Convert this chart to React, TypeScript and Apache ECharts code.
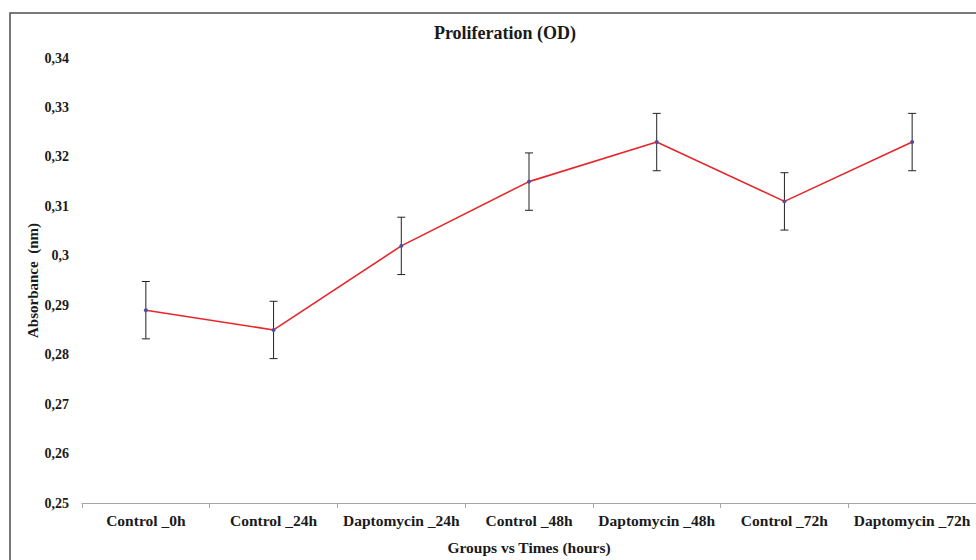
import React, { useEffect, useRef } from "react";
import * as echarts from "echarts";

const categories = [
  "Control _0h",
  "Control _24h",
  "Daptomycin _24h",
  "Control _48h",
  "Daptomycin _48h",
  "Control _72h",
  "Daptomycin _72h",
];
const meanValues = [0.289, 0.285, 0.302, 0.315, 0.323, 0.311, 0.323];
const errorValues = [0.0058, 0.0058, 0.0058, 0.0058, 0.0058, 0.0058, 0.0058];

const FONT = "'Liberation Serif', 'DejaVu Serif', serif";

export default function App() {
  const ref = useRef<HTMLDivElement>(null);
  useEffect(() => {
    if (!ref.current) return;
    const chart = echarts.init(ref.current, null, { renderer: "svg" });
    const errData = meanValues.map((v, i) => [i, v - errorValues[i], v + errorValues[i]]);
    chart.setOption({
      animation: false,
      backgroundColor: "#ffffff",
      title: {
        text: "Proliferation (OD)",
        left: 500,
        textAlign: "center",
        top: 19,
        textStyle: { fontFamily: FONT, fontWeight: "bold", fontSize: 18, color: "#1a1a1a" },
      },
      graphic: [
        {
          type: "rect",
          shape: { x: 10, y: 13, width: 1100, height: 700 },
          style: { fill: "none", stroke: "#4d4d4d", lineWidth: 1.5 },
          silent: true,
        },
      ],
      grid: { left: 82, top: 58, width: 896, height: 447, containLabel: false },
      xAxis: {
        type: "category",
        data: categories,
        boundaryGap: true,
        name: "Groups vs Times (hours)",
        nameLocation: "middle",
        nameGap: 36,
        nameTextStyle: { fontFamily: FONT, fontWeight: "bold", fontSize: 15.5, color: "#1a1a1a" },
        axisLine: { lineStyle: { color: "#a6a6a6", width: 1 } },
        axisTick: { show: true, alignWithLabel: false, length: 5, lineStyle: { color: "#a6a6a6" } },
        axisLabel: { fontFamily: FONT, fontWeight: "bold", fontSize: 15.5, color: "#1a1a1a", margin: 9, interval: 0 },
        splitLine: { show: false },
      },
      yAxis: {
        type: "value",
        min: 0.25,
        max: 0.34,
        interval: 0.01,
        name: "Absorbance  (nm)",
        nameLocation: "middle",
        nameGap: 42,
        nameMoveOverlap: false,
        nameRotate: 90,
        nameTextStyle: { fontFamily: FONT, fontWeight: "bold", fontSize: 15, color: "#1a1a1a" },
        axisLine: { show: false },
        axisTick: { show: false },
        splitLine: { show: false },
        axisLabel: {
          fontFamily: FONT,
          fontWeight: "bold",
          fontSize: 14,
          color: "#1a1a1a",
          margin: 13,
          formatter: (v: number) => String(Math.round(v * 100) / 100).replace(".", ","),
        },
      },
      series: [
        {
          type: "custom",
          data: errData,
          z: 1,
          renderItem: (params: any, api: any) => {
            const x = api.value(0);
            const lo = api.coord([x, api.value(1)]);
            const hi = api.coord([x, api.value(2)]);
            const cap = 4;
            const st = { stroke: "#222222", lineWidth: 1 };
            return {
              type: "group",
              children: [
                { type: "line", shape: { x1: hi[0], y1: hi[1], x2: lo[0], y2: lo[1] }, style: st },
                { type: "line", shape: { x1: hi[0] - cap, y1: hi[1], x2: hi[0] + cap, y2: hi[1] }, style: st },
                { type: "line", shape: { x1: lo[0] - cap, y1: lo[1], x2: lo[0] + cap, y2: lo[1] }, style: st },
              ],
            };
          },
        },
        {
          type: "line",
          data: meanValues,
          z: 3,
          symbol: "circle",
          symbolSize: 4,
          itemStyle: { color: "#4b4fa0" },
          lineStyle: { color: "#e8262a", width: 1.6 },
        },
      ],
    });
    return () => chart.dispose();
  }, []);
  return (
    <div
      ref={ref}
      style={{ position: "fixed", left: 0, top: 0, width: 976, height: 560 }}
    />
  );
}
